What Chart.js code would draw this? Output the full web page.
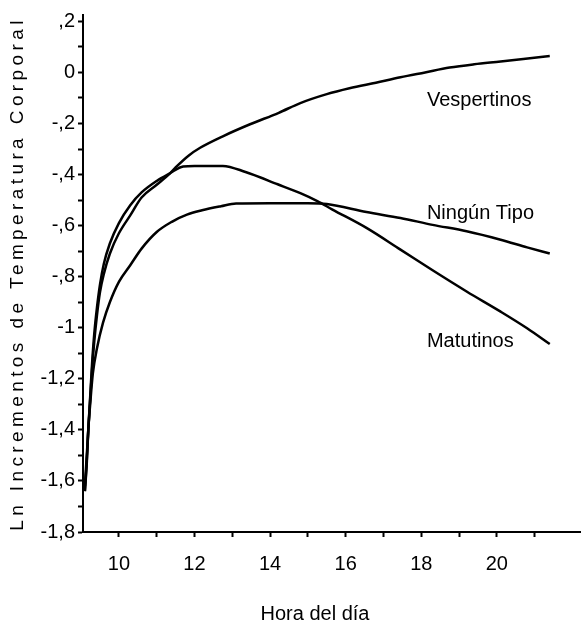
<!DOCTYPE html>
<html>
<head>
<meta charset="utf-8">
<script src="https://cdn.jsdelivr.net/npm/chart.js@4.4.1/dist/chart.umd.min.js"></script>
<style>
    html, body { margin: 0; padding: 0; background: #fff; }
</style>
</head>
<body>
<canvas id="tempChart" width="586" height="628"></canvas>
<script>
// Curves (hour of day, ln of temperature increment)
const vespHours = [9.1, 9.15, 9.19, 9.24, 9.3, 9.35, 9.42, 9.5, 9.6, 9.76, 10.0, 10.3, 10.6, 11.0, 11.35, 11.5, 11.85, 12.15, 12.75, 13.47, 14.23, 14.8, 15.5, 16.1, 16.8, 17.45, 18.1, 18.75, 19.4, 20.1, 20.7, 21.4];
const vespValues = [-1.64, -1.52, -1.40, -1.28, -1.14, -1.05, -0.95, -0.86, -0.79, -0.71, -0.63, -0.56, -0.49, -0.44, -0.395, -0.372, -0.325, -0.295, -0.25, -0.203, -0.158, -0.12, -0.085, -0.062, -0.04, -0.019, 0.0, 0.019, 0.032, 0.043, 0.053, 0.064];

const ningunHours = [9.1, 9.15, 9.19, 9.24, 9.31, 9.42, 9.58, 9.76, 10.0, 10.3, 10.6, 11.0, 11.4, 11.8, 12.2, 12.7, 13.1, 14.0, 15.0, 15.5, 16.55, 17.45, 18.3, 19.2, 20.1, 20.8, 21.4];
const ningunValues = [-1.64, -1.53, -1.40, -1.30, -1.18, -1.08, -0.98, -0.90, -0.82, -0.755, -0.69, -0.625, -0.585, -0.557, -0.54, -0.524, -0.513, -0.512, -0.512, -0.515, -0.547, -0.570, -0.597, -0.622, -0.655, -0.685, -0.709];

const matuHours = [9.1, 9.15, 9.19, 9.24, 9.29, 9.35, 9.42, 9.5, 9.6, 9.76, 10.0, 10.3, 10.6, 11.0, 11.35, 11.7, 12.0, 12.75, 13.35, 14.2, 14.8, 15.25, 15.65, 16.55, 17.45, 18.3, 19.2, 20.1, 20.8, 21.4];
const matuValues = [-1.62, -1.50, -1.40, -1.27, -1.14, -1.02, -0.92, -0.83, -0.75, -0.67, -0.59, -0.52, -0.47, -0.425, -0.395, -0.368, -0.366, -0.366, -0.39, -0.438, -0.473, -0.504, -0.537, -0.609, -0.694, -0.775, -0.858, -0.937, -1.002, -1.064];

const seriesNames = ["Vespertinos", "Ningún Tipo", "Matutinos"];
const xTickHours = [10, 11, 12, 13, 14, 15, 16, 17, 18, 19, 20, 21];
const xTickLabels = [10, 12, 14, 16, 18, 20];
const yTickTenths = [-18, -17, -16, -15, -14, -13, -12, -11, -10, -9, -8, -7, -6, -5, -4, -3, -2, -1, 0, 1, 2];
const xTitle = "Hora del día";
const yTitle = "Ln Incrementos de Temperatura Corporal";

function toPoints(xs, ys) {
    return xs.map((h, i) => ({ x: h, y: ys[i] }));
}

// ",2"  "0"  "-,2"  "-1"  "-1,2" style labels, only every 0.2
function yLabel(v) {
    const t = Math.round(v * 10);
    if (t % 2 !== 0) return "";
    if (t === 0) return "0";
    const a = Math.abs(t);
    const whole = Math.floor(a / 10);
    const frac = a % 10;
    return (t < 0 ? "-" : "") + (whole ? whole : "") + (frac ? "," + frac : "");
}

const lineStyle = {
    borderColor: "#000",
    borderWidth: 2.5,
    pointRadius: 0,
    fill: false,
    cubicInterpolationMode: "monotone",
};

const labelFont = '"Liberation Sans", Arial, sans-serif';

// curve names sit next to the lines, titles drawn by hand
const textPlugin = {
    id: "textPlugin",
    afterDraw(chart) {
        const { ctx, chartArea } = chart;
        const x = chart.scales.x;
        const y = chart.scales.y;
        const spots = [[18.15, -0.132], [18.15, -0.574], [18.15, -1.074]];
        ctx.save();
        ctx.fillStyle = "#000";
        ctx.font = "20px " + labelFont;
        ctx.textAlign = "left";
        ctx.textBaseline = "alphabetic";
        seriesNames.forEach((name, i) => {
            ctx.fillText(name, x.getPixelForValue(spots[i][0]), y.getPixelForValue(spots[i][1]));
        });

        ctx.textAlign = "center";
        ctx.fillText(xTitle, 315, 620);

        ctx.translate(18, (chartArea.top + chartArea.bottom) / 2);
        ctx.rotate(-Math.PI / 2);
        ctx.font = "19px " + labelFont;
        ctx.letterSpacing = "4.4px";
        ctx.textBaseline = "middle";
        ctx.fillText(yTitle, 0, 0);
        ctx.restore();
    },
};

const ctx = document.getElementById("tempChart").getContext("2d");
new Chart(ctx, {
    type: "line",
    data: {
        datasets: [
            { label: seriesNames[0], data: toPoints(vespHours, vespValues), ...lineStyle },
            { label: seriesNames[1], data: toPoints(ningunHours, ningunValues), ...lineStyle },
            { label: seriesNames[2], data: toPoints(matuHours, matuValues), ...lineStyle },
        ],
    },
    options: {
        responsive: false,
        animation: false,
        layout: { padding: { top: 10, right: 6, left: 0, bottom: 0 } },
        plugins: {
            legend: { display: false },
            tooltip: { enabled: false },
        },
        scales: {
            x: {
                type: "linear",
                min: 9.05,
                max: 22.2,
                afterBuildTicks: s => { s.ticks = xTickHours.map(v => ({ value: v })); },
                afterFit: s => { s.height = 96; },
                border: { color: "#000", width: 2 },
                grid: { drawOnChartArea: false, drawTicks: true, tickLength: 5, tickWidth: 2, color: "#000" },
                ticks: {
                    color: "#000",
                    autoSkip: false,
                    maxRotation: 0,
                    padding: 15,
                    font: { family: labelFont, size: 20 },
                    callback: v => (xTickLabels.includes(v) ? String(v) : ""),
                },
            },
            y: {
                type: "linear",
                min: -1.8,
                max: 0.225,
                afterBuildTicks: s => { s.ticks = yTickTenths.map(t => ({ value: t / 10 })); },
                afterFit: s => { s.width = 83; },
                border: { color: "#000", width: 2 },
                grid: { drawOnChartArea: false, drawTicks: true, tickLength: 5, tickWidth: 2, color: "#000" },
                ticks: {
                    color: "#000",
                    autoSkip: false,
                    padding: 3,
                    font: { family: labelFont, size: 20 },
                    callback: v => yLabel(v),
                },
            },
        },
    },
    plugins: [textPlugin],
});
</script>
</body>
</html>
